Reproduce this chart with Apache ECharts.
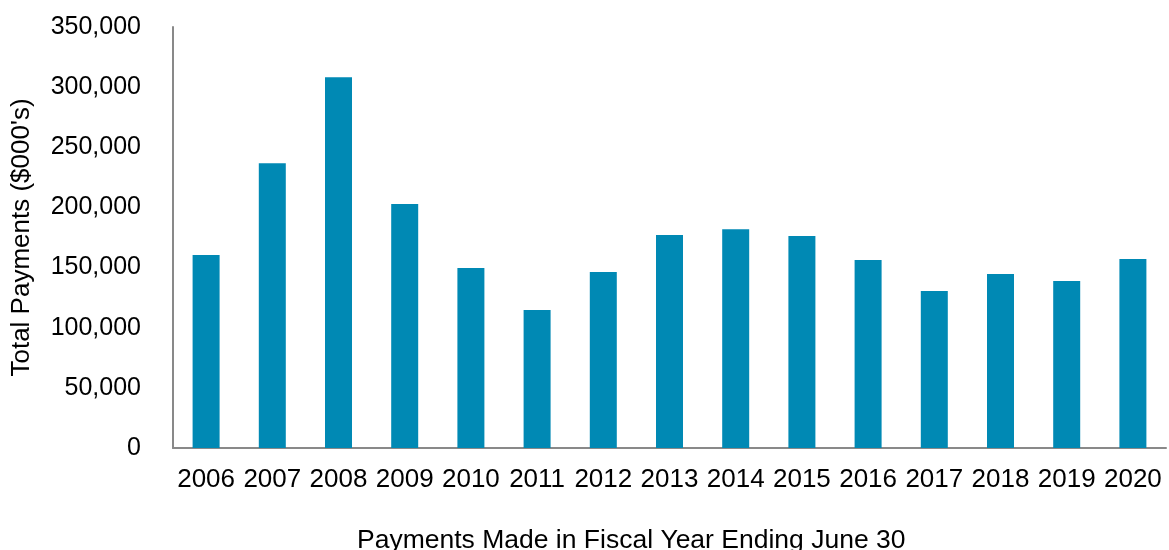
<!DOCTYPE html>
<html>
<head>
<meta charset="utf-8">
<script src="https://cdn.jsdelivr.net/npm/echarts@6/dist/echarts.min.js"></script>
<style>
  html, body { margin: 0; padding: 0; background: #fff; }
  #chart { width: 1169px; height: 550px; }
</style>
</head>
<body>
<div id="chart"></div>
<script>
// Fiscal years (ending June 30)
const years = ['2006', '2007', '2008', '2009', '2010', '2011', '2012', '2013',
               '2014', '2015', '2016', '2017', '2018', '2019', '2020'];
// Total payments, in thousands of dollars
const payments = [160400, 236700, 308200, 202800, 149600, 114700, 146300, 177100,
                  181800, 176200, 156300, 130500, 144700, 138800, 157100];

const FONT = 'Liberation Sans, Arial, sans-serif';
const AXIS_GREY = '#898989';

const chart = echarts.init(document.getElementById('chart'), null, { renderer: 'canvas' });
chart.setOption({
  animation: false,
  backgroundColor: '#ffffff',
  grid: { left: 173, right: 3, top: 27, bottom: 102, containLabel: false },
  xAxis: {
    type: 'category',
    data: years,
    axisLine: { show: true, lineStyle: { color: AXIS_GREY, width: 2 } },
    axisTick: { show: false },
    axisLabel: { color: '#000', fontFamily: FONT, fontSize: 26, margin: 19, interval: 0 }
  },
  yAxis: {
    type: 'value',
    min: 0,
    max: 350000,
    interval: 50000,
    name: "Total Payments ($000's)",
    nameLocation: 'middle',
    nameGap: 138,
    nameRotate: 90,
    nameTextStyle: { color: '#000', fontFamily: FONT, fontSize: 26 },
    axisLine: { show: true, lineStyle: { color: AXIS_GREY, width: 2 } },
    axisTick: { show: false },
    splitLine: { show: false },
    axisLabel: {
      color: '#000', fontFamily: FONT, fontSize: 25, margin: 32,
      formatter: v => v.toLocaleString('en-US')
    }
  },
  graphic: [{
    type: 'text',
    left: 357,
    top: 527,
    style: {
      text: 'Payments Made in Fiscal Year Ending June 30',
      fill: '#000',
      font: '26.5px ' + FONT
    }
  }],
  series: [{
    type: 'bar',
    data: payments,
    barWidth: 27,
    itemStyle: { color: '#0089b4' }
  }]
});
</script>
</body>
</html>
